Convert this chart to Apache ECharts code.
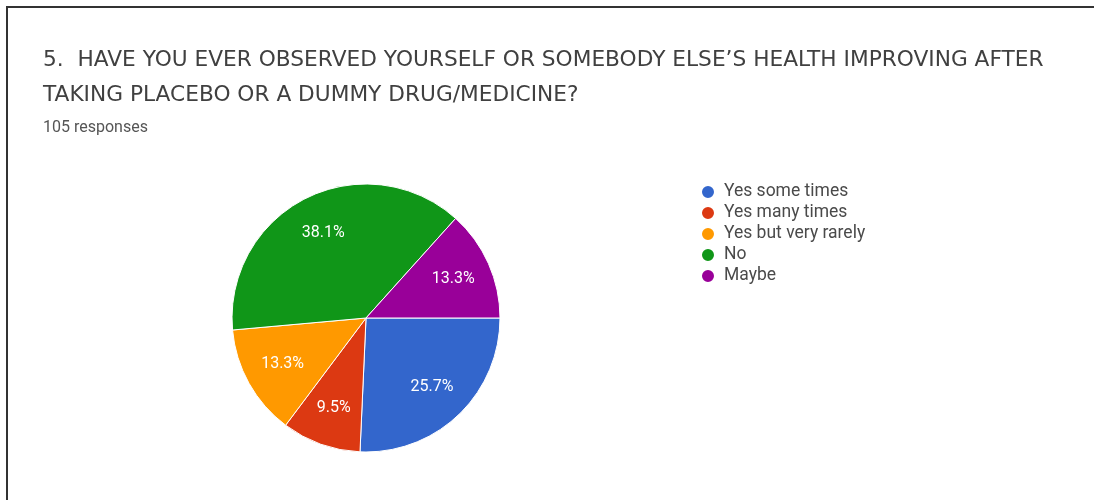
<!DOCTYPE html>
<html>
<head>
<meta charset="utf-8">
<script src="https://cdn.jsdelivr.net/npm/echarts@6/dist/echarts.min.js"></script>
<style>
  html, body { margin: 0; padding: 0; background: #fff; }
  #chart { width: 1094px; height: 500px; }
</style>
</head>
<body>
<div id="chart"></div>
<script>
// Survey question 5 – answer counts out of 105 responses
const categories = ['Yes some times', 'Yes many times', 'Yes but very rarely', 'No', 'Maybe'];
const counts = [27, 10, 14, 40, 14];
const colors = ['#3366cc', '#dc3912', '#ff9900', '#109618', '#990099'];
const questionText = '5.  HAVE YOU EVER OBSERVED YOURSELF OR SOMEBODY ELSE\u2019S HEALTH IMPROVING AFTER\nTAKING PLACEBO OR A DUMMY DRUG/MEDICINE?';
const responsesText = '105 responses';

const total = counts.reduce((a, b) => a + b, 0);

const pieData = categories.map((name, i) => ({
  name: name,
  value: counts[i],
  itemStyle: { color: colors[i] }
}));

const chart = echarts.init(document.getElementById('chart'), null, { renderer: 'canvas' });

const pieCenter = [366, 318];
const pieRadius = 134;

chart.setOption({
  backgroundColor: '#ffffff',
  animation: false,
  title: [
    {
      text: questionText,
      left: 43,
      top: 43,
      padding: 0,
      textStyle: {
        fontFamily: 'DejaVu Sans',
        fontSize: 21.7,
        fontWeight: 'normal',
        color: '#404040',
        lineHeight: 35
      }
    },
    {
      text: responsesText,
      left: 43,
      top: 120,
      padding: 0,
      textStyle: {
        fontFamily: 'Roboto',
        fontSize: 16,
        fontWeight: 'normal',
        color: '#555555'
      }
    }
  ],
  legend: {
    orient: 'vertical',
    left: 700,
    top: 183,
    padding: 0,
    icon: 'circle',
    itemWidth: 14,
    itemHeight: 14,
    itemGap: 3,
    selectedMode: false,
    textStyle: {
      fontFamily: 'Roboto',
      fontSize: 17.5,
      lineHeight: 17,
      color: '#4a4a4a',
      padding: [0, 0, 0, 4]
    },
    data: categories
  },
  graphic: [
    {
      type: 'polyline',
      shape: { points: [[1094, 7], [7, 7], [7, 500]] },
      style: { stroke: '#333333', lineWidth: 2, fill: null },
      silent: true
    }
  ],
  series: [
    {
      // the visible pie
      type: 'pie',
      center: pieCenter,
      radius: [0, pieRadius],
      startAngle: 0,
      clockwise: true,
      avoidLabelOverlap: false,
      label: { show: false },
      labelLine: { show: false },
      itemStyle: { borderColor: '#ffffff', borderWidth: 1 },
      emphasis: { disabled: true },
      data: pieData
    },
    {
      // transparent ring carrying the percentage labels further out in each slice
      type: 'pie',
      center: pieCenter,
      radius: [pieRadius * 0.38, pieRadius],
      startAngle: 0,
      clockwise: true,
      silent: true,
      avoidLabelOverlap: false,
      legendHoverLink: false,
      itemStyle: { color: 'rgba(0,0,0,0)', borderWidth: 0 },
      label: {
        show: true,
        position: 'inside',
        formatter: p => (p.value / total * 100).toFixed(1) + '%',
        fontFamily: 'Roboto',
        fontSize: 16,
        color: '#ffffff'
      },
      labelLine: { show: false },
      emphasis: { disabled: true },
      data: categories.map((name, i) => ({ name: name, value: counts[i] }))
    }
  ]
});
</script>
</body>
</html>
